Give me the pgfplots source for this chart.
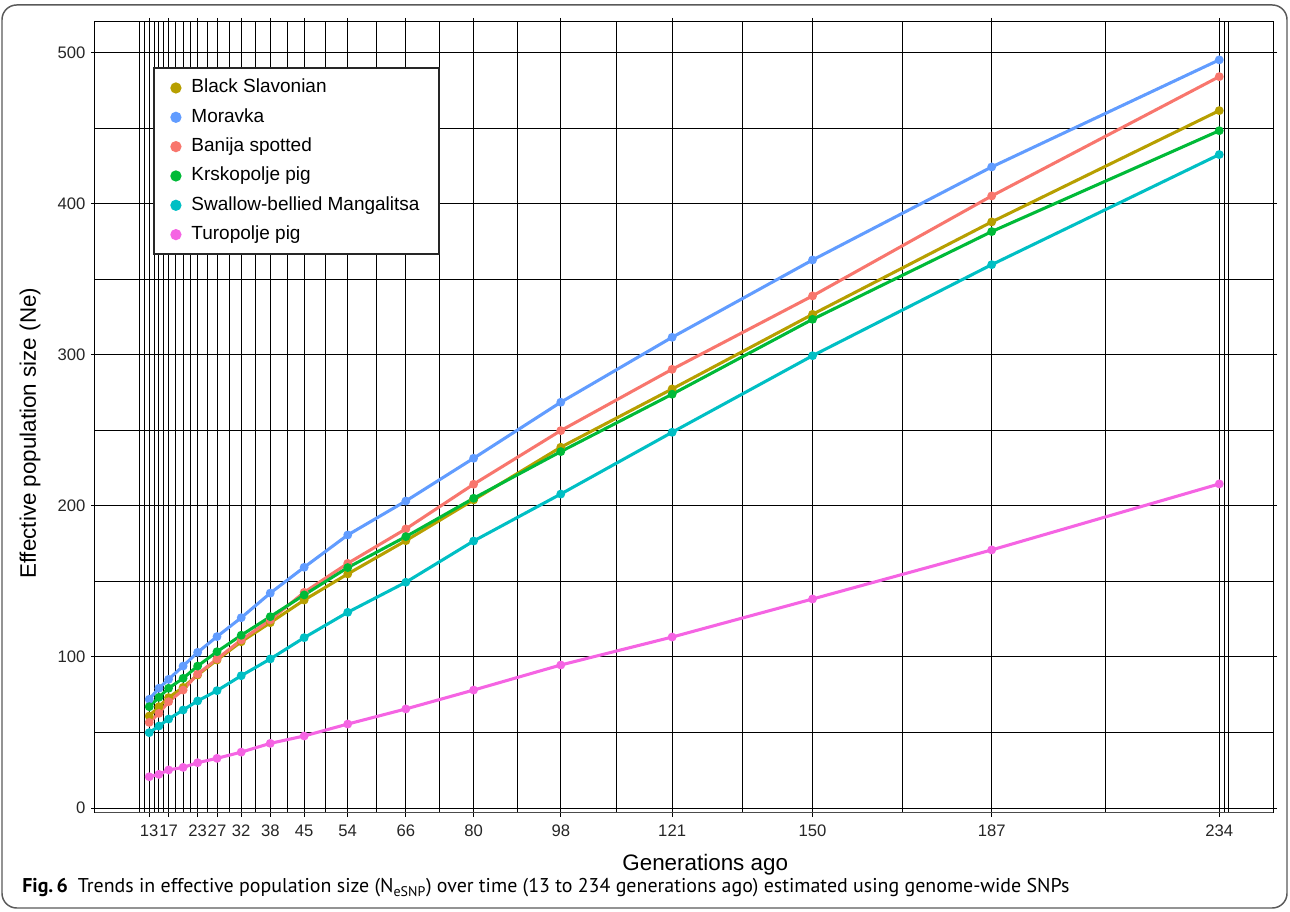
\documentclass[border=0pt]{standalone}
\usepackage{pgfplots}
\pgfplotsset{compat=1.18}
\usepackage{fontspec}
\setmainfont{Liberation Sans}
\newfontfamily\capfont{PT Sans}
\definecolor{cBS}{HTML}{B79F00}
\definecolor{cMO}{HTML}{619CFF}
\definecolor{cBA}{HTML}{F8766D}
\definecolor{cKR}{HTML}{00BA38}
\definecolor{cSW}{HTML}{00BFC4}
\definecolor{cTU}{HTML}{F564E3}
\begin{document}
\begin{tikzpicture}[x=0.75pt,y=0.75pt]
\path[use as bounding box] (0,0) rectangle (1290,912);
\draw[rounded corners=11pt, color=black!65, line width=1.1pt] (2,4) rectangle (1287,907);
\begin{axis}[
  at={(71.25pt,74.25pt)}, anchor=south west,
  scale only axis, width=883.5pt, height=593.25pt,
  xmin=1.8, xmax=245.1, ymin=-3.3, ymax=520.5,
  /pgf/number format/assume math mode=true,
  xtick={13,17,23,27,32,38,45,54,66,80,98,121,150,187,234},
  minor xtick={11,12,14,15,16,18.5,20,21.5,25,29.5,35,41.5,49.5,60,73,89,109.5,135.5,168.5,210.5,235,236},
  ytick={0,100,200,300,400,500},
  minor ytick={50,150,250,350,450},
  grid=both,
  major grid style={black, line width=0.75pt},
  minor grid style={black, line width=0.75pt},
  tick align=outside,
  major tick length=3pt,
  minor tick length=0pt,
  tick style={black, line width=0.75pt},
  axis line style={black, line width=0.75pt},
  ticklabel style={font=\fontsize{12.5}{14}\selectfont, text=black!85},
  xticklabel style={inner sep=1pt, yshift=-5pt},
  yticklabel style={inner sep=1pt, xshift=-3pt},
  xlabel={Generations ago},
  ylabel={Effective population size (Ne)},
  every axis x label/.style={at={(rel axis cs:0.518,0)}, anchor=center, yshift=-39pt, font=\fontsize{16.8}{18}\selectfont},
  every axis y label/.style={at={(rel axis cs:0,0.48)}, anchor=center, xshift=-48.75pt, rotate=90, font=\fontsize{16.8}{18}\selectfont},
  legend style={at={(0.049,0.9427)}, anchor=north west, draw=black!85, line width=1.5pt,
    fill=white, font=\fontsize{14.25}{16}\selectfont, inner xsep=12.5pt, inner ysep=6pt,
    row sep=4.5pt, column sep=5.5pt,
    nodes={inner sep=2pt, text height=10.5pt, text depth=3pt, anchor=west}},
  legend cell align=left,
  legend image code/.code={\fill[#1] (0pt,0pt) circle (3pt);},
  every axis plot/.append style={line width=2.3pt, mark=*, mark size=2.1pt},
]
\addplot[cBS, mark options={fill=cBS, draw=cBS}] coordinates {(13,60.9)(15,67.1)(17,73.1)(20,79.9)(23,88.1)(27,98.0)(32,110.1)(38,122.7)(45,137.7)(54,155.0)(66,177.0)(80,204.0)(98,238.9)(121,277.5)(150,326.9)(187,388.1)(234,461.8)};
\addlegendentry{Black Slavonian}
\addplot[cMO, mark options={fill=cMO, draw=cMO}] coordinates {(13,72.0)(15,79.3)(17,85.2)(20,94.0)(23,103.1)(27,113.5)(32,126.0)(38,142.3)(45,159.4)(54,180.8)(66,203.3)(80,231.6)(98,268.7)(121,311.7)(150,362.9)(187,424.5)(234,495.4)};
\addlegendentry{Moravka}
\addplot[cBA, mark options={fill=cBA, draw=cBA}] coordinates {(13,56.7)(15,62.7)(17,70.4)(20,78.1)(23,88.7)(27,98.7)(32,111.3)(38,124.5)(45,142.8)(54,162.0)(66,184.8)(80,214.4)(98,249.9)(121,290.5)(150,339.1)(187,405.3)(234,484.3)};
\addlegendentry{Banija spotted}
\addplot[cKR, mark options={fill=cKR, draw=cKR}] coordinates {(13,67.1)(15,73.3)(17,79.3)(20,85.9)(23,94.0)(27,103.5)(32,114.4)(38,126.7)(45,141.1)(54,159.2)(66,179.7)(80,205.1)(98,236.0)(121,274.0)(150,323.6)(187,381.7)(234,448.5)};
\addlegendentry{Krskopolje pig}
\addplot[cSW, mark options={fill=cSW, draw=cSW}] coordinates {(13,49.9)(15,54.3)(17,58.9)(20,64.9)(23,70.9)(27,77.7)(32,87.6)(38,98.7)(45,112.8)(54,129.6)(66,149.5)(80,176.8)(98,207.9)(121,248.8)(150,299.5)(187,359.8)(234,432.7)};
\addlegendentry{Swallow-bellied Mangalitsa}
\addplot[cTU, mark options={fill=cTU, draw=cTU}] coordinates {(13,20.7)(15,22.3)(17,25.2)(20,26.9)(23,30.0)(27,32.9)(32,37.0)(38,42.8)(45,47.7)(54,55.6)(66,65.6)(80,78.1)(98,94.7)(121,113.2)(150,138.4)(187,170.9)(234,214.6)};
\addlegendentry{Turopolje pig}
\draw[black!70, line width=1.6pt] (rel axis cs:0,0) -- (rel axis cs:1,0);
\end{axis}
\node[anchor=west, inner sep=0pt, font=\capfont\fontsize{14.95}{17}\selectfont] at (22,24) {\textbf{Fig.\,6}\enspace Trends in effective population size (N\textsubscript{eSNP}) over time (13 to 234 generations ago) estimated using genome-wide SNPs};
\end{tikzpicture}
\end{document}
